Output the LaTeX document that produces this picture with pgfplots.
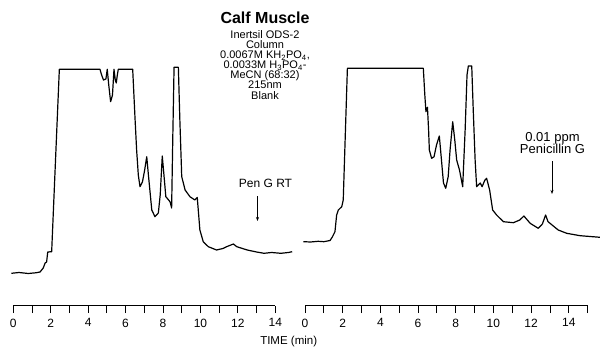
\documentclass[border=0pt]{standalone}
\usepackage{fontspec}
\setmainfont{Liberation Sans}
\usepackage{pgfplots}
\pgfplotsset{compat=1.18}
\usetikzlibrary{arrows.meta}

\pgfplotsset{chromo/.style={
  scale only axis, anchor=south west, clip=false,
  ymin=44.3, ymax=290, height=245.7pt,
  axis x line=bottom, axis y line=none,
  axis line style={-, line width=0.8pt},
  xtick align=outside,
  major tick length=7.5pt, minor tick length=7.5pt,
  every tick/.style={line width=0.8pt, black},
  /pgf/number format/assume math mode=true,
  xticklabel style={font=\fontsize{12}{12}\selectfont, yshift=-2pt},
  ytick=\empty,
}}

\begin{document}
\begin{tikzpicture}[x=1pt,y=1pt]
\useasboundingbox (0,0) rectangle (600,350);

% left panel (Blank)
\begin{axis}[chromo, at={(13.3pt,44.3pt)}, width=262pt,
  xmin=0, xmax=14, xtick={0,2,...,14}, minor xtick={1,3,...,13}]
\addplot[black, line width=1.2pt, line join=round] table[x=t, y expr=350-\thisrow{py}] {
t py
-0.1 273.3
0.3 272.5
0.8 273.5
1.2 272.8
1.43 272
1.6 268
1.7 263
1.78 262
1.84 252
2.05 251.7
2.46 69.3
4.63 69.3
4.72 75
4.82 80
4.95 79
5.02 69.3
5.1 85
5.2 101.7
5.3 95
5.38 69.3
5.45 80
5.5 83
5.56 75
5.61 69.3
6.38 69.3
6.5 116.7
6.59 150
6.68 175
6.77 186.7
6.9 182
7.02 170
7.13 156.7
7.22 175
7.4 210
7.57 216.7
7.75 213
7.85 195
7.96 156
8.05 175
8.15 196.7
8.3 200
8.38 202
8.46 208
8.52 140
8.59 67.3
8.82 67.3
8.9 120
9.0 176.7
9.18 190
9.44 196.7
9.7 200
9.83 197.5
9.97 230
10.15 241.7
10.42 246.7
10.86 250
11.2 248.5
11.4 246.7
11.76 244
11.94 246.7
12.5 250
13.0 252
13.4 253.3
13.8 252.5
14.3 253.3
14.7 252.5
14.9 251.7
};
\end{axis}

% right panel (0.01 ppm Penicillin G)
\begin{axis}[chromo, at={(305pt,44.3pt)}, width=282.6pt,
  xmin=0, xmax=15, xtick={0,2,...,14}, minor xtick={1,3,...,15}]
\addplot[black, line width=1.2pt, line join=round] table[x=t, y expr=350-\thisrow{py}] {
t py
-0.09 241.7
0.3 242
0.7 241.3
1.0 241.7
1.33 240.5
1.45 237
1.59 231.7
1.68 215
1.77 210
1.95 206.7
2.03 200
2.25 68.3
6.28 68.3
6.36 95
6.42 111.7
6.5 107.3
6.56 130
6.6 150
6.72 158.3
6.85 156.7
6.98 145
7.13 136
7.22 155
7.35 183
7.47 188.3
7.6 176.7
7.7 150
7.84 121.7
7.95 140
8.05 160
8.2 170
8.37 186.7
8.5 130
8.6 75
8.67 66
8.85 66
8.93 110
9.03 160
9.11 186.7
9.3 183
9.4 186.7
9.55 180
9.64 178.3
9.8 190
9.96 210
10.17 215
10.53 221.7
11.06 222.7
11.4 220
11.62 216
11.95 223.3
12.38 228.3
12.6 224
12.77 215
12.9 221.7
13.44 230
13.89 233.3
14.6 235.7
15.66 237.3
};
\end{axis}

% title block
\node[anchor=base, inner sep=0pt, font=\fontsize{16}{16}\selectfont\bfseries] at (265,326) {Calf Muscle};
\begin{scope}[every node/.style={anchor=base, font=\fontsize{11}{11}\selectfont, inner sep=0pt}]
\node at (265,311.5) {Inertsil ODS-2};
\node at (265,301.4) {Column};
\node at (265,291.3) {0.0067M KH\textsubscript{2}PO\textsubscript{4},};
\node at (265,281.2) {0.0033M H\textsubscript{3}PO\textsubscript{4}-};
\node at (265,271.1) {MeCN (68:32)};
\node at (265,261.0) {215nm};
\node at (265,250.9) {Blank};
\end{scope}
% annotations
\node[anchor=base, inner sep=0pt, font=\fontsize{12}{12}\selectfont] at (265.5,162) {Pen G RT};
\begin{scope}[every node/.style={anchor=base, font=\fontsize{13}{13}\selectfont, inner sep=0pt}]
\node at (552.5,208.3) {0.01 ppm};
\node at (552.5,196.7) {Penicillin G};
\end{scope}
\node[anchor=base, inner sep=0pt, font=\fontsize{11.5}{12}\selectfont] at (288.7,5) {TIME (min)};
\draw[-{Stealth[length=4pt,width=3pt]}, line width=0.6pt] (257.5,153.5) -- (257.5,129);
\draw[-{Stealth[length=4pt,width=3pt]}, line width=0.6pt] (552,188.5) -- (552,156);
\end{tikzpicture}
\end{document}
